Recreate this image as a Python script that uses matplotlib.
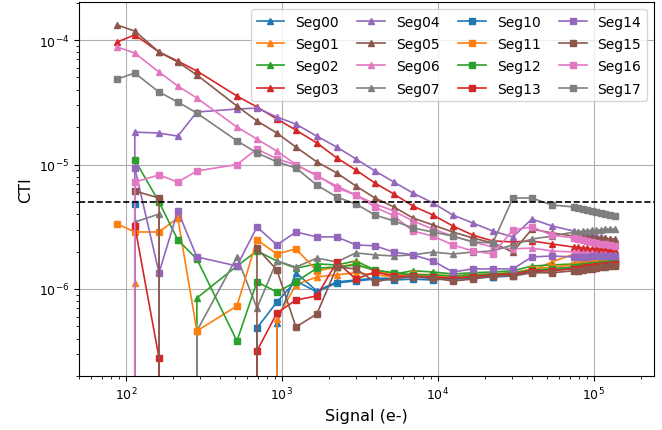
import numpy as np
import matplotlib
matplotlib.use('Agg')
import matplotlib.pyplot as plt

nan = np.nan
NEG = -1e-6  # non-positive CTI (falls off the log axis)

signal = [88, 114, 163, 215, 285, 515, 692, 929, 1230, 1675, 2250, 2980, 3950,
          5225, 6920, 9290, 12470, 16750, 22500, 30260, 40080, 53800,
          74500, 79500, 85000, 90800, 97000, 103500, 110500, 118000, 126000, 136000]

seg00 = [nan, nan, nan, nan, nan, nan, NEG, 5.33e-7, 1.35e-6, 9.64e-7, 1.14e-6, 1.18e-6, 1.22e-6, 1.22e-6, 1.25e-6, 1.22e-6, 1.20e-6, 1.22e-6, 1.25e-6, 1.30e-6, 1.40e-6, 1.45e-6, 1.50e-6, 1.53e-6, 1.56e-6, 1.56e-6, 1.59e-6, 1.62e-6, 1.62e-6, 1.65e-6, 1.65e-6, 1.68e-6]
seg01 = [nan, 1.12e-6, NEG, NEG, NEG, NEG, NEG, 5.74e-7, 1.08e-6, 1.25e-6, 1.30e-6, 1.35e-6, 1.30e-6, 1.25e-6, 1.27e-6, 1.25e-6, 1.25e-6, 1.27e-6, 1.30e-6, 1.32e-6, 1.40e-6, 1.65e-6, 1.91e-6, 1.95e-6, 1.95e-6, 1.98e-6, 1.98e-6, 1.98e-6, 2.02e-6, 2.02e-6, 2.02e-6, 2.02e-6]
seg02 = [nan, nan, nan, NEG, 8.47e-7, 1.53e-6, 2.02e-6, 1.68e-6, 1.47e-6, 1.59e-6, 1.56e-6, 1.68e-6, 1.42e-6, 1.32e-6, 1.40e-6, 1.37e-6, 1.32e-6, 1.35e-6, 1.37e-6, 1.40e-6, 1.53e-6, 1.56e-6, 1.59e-6, 1.59e-6, 1.62e-6, 1.62e-6, 1.62e-6, 1.65e-6, 1.65e-6, 1.65e-6, 1.68e-6, 1.68e-6]
seg03 = [9.64e-5, 1.10e-4, 8.01e-5, 6.78e-5, 5.64e-5, 3.55e-5, 2.90e-5, 2.32e-5, 1.89e-5, 1.49e-5, 1.13e-5, 9.03e-6, 7.10e-6, 5.79e-6, 4.64e-6, 3.93e-6, 3.21e-6, 2.71e-6, 2.43e-6, 2.39e-6, 2.43e-6, 2.30e-6, 2.17e-6, 2.17e-6, 2.13e-6, 2.13e-6, 2.10e-6, 2.10e-6, 2.10e-6, 2.06e-6, 2.06e-6, 2.06e-6]
seg04 = [NEG, 1.82e-5, 1.79e-5, 1.69e-5, 2.64e-5, 2.79e-5, 2.84e-5, 2.41e-5, 2.11e-5, 1.69e-5, 1.38e-5, 1.11e-5, 8.87e-6, 7.23e-6, 5.90e-6, 4.91e-6, 3.93e-6, 3.39e-6, 2.92e-6, 2.62e-6, 3.65e-6, 3.21e-6, 2.92e-6, 2.87e-6, 2.82e-6, 2.77e-6, 2.71e-6, 2.66e-6, 2.62e-6, 2.57e-6, 2.52e-6, 2.48e-6]
seg05 = [1.32e-4, 1.18e-4, 8.01e-5, 6.66e-5, 5.24e-5, 2.95e-5, 2.24e-5, 1.79e-5, 1.38e-5, 1.05e-5, 8.55e-6, 6.72e-6, 5.38e-6, 4.56e-6, 3.72e-6, 3.27e-6, 2.87e-6, 2.57e-6, 2.34e-6, 1.98e-6, 3.03e-6, 2.82e-6, 2.66e-6, 2.66e-6, 2.62e-6, 2.62e-6, 2.62e-6, 2.57e-6, 2.57e-6, 2.57e-6, 2.52e-6, 2.52e-6]
seg06 = [8.79e-5, 7.86e-5, 5.53e-5, 4.27e-5, 3.42e-5, 2.00e-5, 1.60e-5, 1.28e-5, 1.00e-5, 8.09e-6, 6.72e-6, 5.69e-6, 4.82e-6, 4.23e-6, 3.52e-6, 3.03e-6, 2.66e-6, 2.39e-6, 2.17e-6, 2.10e-6, 2.13e-6, 2.02e-6, 1.98e-6, 1.98e-6, 1.95e-6, 1.95e-6, 1.95e-6, 1.91e-6, 1.91e-6, 1.91e-6, 1.88e-6, 1.88e-6]
seg07 = [nan, 3.45e-6, 4.00e-6, NEG, 4.60e-7, 1.81e-6, 7.03e-7, 1.68e-6, 1.50e-6, 1.77e-6, 1.65e-6, 1.95e-6, 1.88e-6, 1.84e-6, 1.88e-6, 1.98e-6, 1.91e-6, 1.98e-6, 2.02e-6, 2.26e-6, 2.52e-6, 2.66e-6, 2.87e-6, 2.87e-6, 2.92e-6, 2.92e-6, 2.98e-6, 2.98e-6, 2.98e-6, 3.03e-6, 3.03e-6, 3.03e-6]

seg10 = [nan, 4.82e-6, NEG, NEG, NEG, NEG, 4.86e-7, 7.86e-7, 1.16e-6, 9.46e-7, 1.12e-6, 1.16e-6, 1.20e-6, 1.18e-6, 1.20e-6, 1.18e-6, 1.22e-6, 1.25e-6, 1.25e-6, 1.27e-6, 1.37e-6, 1.42e-6, 1.47e-6, 1.47e-6, 1.50e-6, 1.53e-6, 1.53e-6, 1.56e-6, 1.59e-6, 1.59e-6, 1.62e-6, 1.65e-6]
seg11 = [3.33e-6, 2.87e-6, 2.87e-6, 3.72e-6, 4.60e-7, 7.30e-7, 2.48e-6, 1.91e-6, 2.10e-6, 1.40e-6, 1.50e-6, 1.59e-6, 1.40e-6, 1.30e-6, 1.32e-6, 1.30e-6, 1.27e-6, 1.30e-6, 1.32e-6, 1.35e-6, 1.45e-6, 1.50e-6, 1.56e-6, 1.56e-6, 1.59e-6, 1.59e-6, 1.62e-6, 1.62e-6, 1.65e-6, 1.65e-6, 1.68e-6, 1.71e-6]
seg12 = [nan, 1.09e-5, 5.00e-6, 2.48e-6, 1.74e-6, 3.82e-7, 1.14e-6, 9.46e-7, 1.14e-6, 1.47e-6, 1.50e-6, 1.56e-6, 1.42e-6, 1.35e-6, 1.30e-6, 1.30e-6, 1.27e-6, 1.30e-6, 1.32e-6, 1.35e-6, 1.42e-6, 1.45e-6, 1.50e-6, 1.50e-6, 1.53e-6, 1.53e-6, 1.56e-6, 1.56e-6, 1.59e-6, 1.59e-6, 1.62e-6, 1.62e-6]
seg13 = [nan, 3.21e-6, 2.79e-7, NEG, NEG, NEG, 3.18e-7, 6.41e-7, 8.16e-7, 8.79e-7, 1.65e-6, 1.20e-6, 1.37e-6, 1.27e-6, 1.27e-6, 1.25e-6, 1.22e-6, 1.25e-6, 1.30e-6, 1.32e-6, 1.40e-6, 1.40e-6, 1.45e-6, 1.45e-6, 1.47e-6, 1.50e-6, 1.50e-6, 1.53e-6, 1.53e-6, 1.56e-6, 1.56e-6, 1.59e-6]
seg14 = [nan, 9.38e-6, 1.35e-6, 4.23e-6, 1.81e-6, 1.53e-6, 3.15e-6, 2.26e-6, 2.87e-6, 2.62e-6, 2.62e-6, 2.26e-6, 2.22e-6, 1.98e-6, 1.88e-6, 1.68e-6, 1.37e-6, 1.45e-6, 1.45e-6, 1.45e-6, 1.81e-6, 1.84e-6, 1.81e-6, 1.81e-6, 1.81e-6, 1.81e-6, 1.84e-6, 1.84e-6, 1.84e-6, 1.84e-6, 1.84e-6, 1.84e-6]
seg15 = [nan, 6.13e-6, 5.38e-6, NEG, NEG, NEG, 2.13e-6, 1.42e-6, 4.95e-7, 6.30e-7, 1.50e-6, 1.45e-6, 1.14e-6, 1.22e-6, 1.25e-6, 1.22e-6, 1.16e-6, 1.20e-6, 1.27e-6, 1.27e-6, 1.35e-6, 1.35e-6, 1.40e-6, 1.40e-6, 1.42e-6, 1.45e-6, 1.45e-6, 1.47e-6, 1.50e-6, 1.50e-6, 1.53e-6, 1.53e-6]
seg16 = [NEG, 7.23e-6, 8.24e-6, 7.23e-6, 8.87e-6, 1.00e-5, 1.33e-5, 1.11e-5, 9.91e-6, 8.24e-6, 6.48e-6, 5.69e-6, 4.56e-6, 3.86e-6, 2.92e-6, 2.66e-6, 2.26e-6, 2.02e-6, 1.91e-6, 2.98e-6, 3.15e-6, 2.71e-6, 2.57e-6, 2.52e-6, 2.48e-6, 2.43e-6, 2.39e-6, 2.34e-6, 2.30e-6, 2.30e-6, 2.26e-6, 2.22e-6]
seg17 = [4.86e-5, 5.43e-5, 3.82e-5, 3.18e-5, 2.59e-5, 1.55e-5, 1.24e-5, 1.05e-5, 9.38e-6, 6.84e-6, 5.48e-6, 4.82e-6, 3.93e-6, 3.52e-6, 3.09e-6, 2.87e-6, 2.66e-6, 2.39e-6, 2.34e-6, 5.38e-6, 5.38e-6, 4.73e-6, 4.56e-6, 4.47e-6, 4.39e-6, 4.31e-6, 4.23e-6, 4.15e-6, 4.07e-6, 4.00e-6, 3.93e-6, 3.86e-6]

tri_names = ['Seg00', 'Seg01', 'Seg02', 'Seg03', 'Seg04', 'Seg05', 'Seg06', 'Seg07']
tri_data = [seg00, seg01, seg02, seg03, seg04, seg05, seg06, seg07]
sq_names = ['Seg10', 'Seg11', 'Seg12', 'Seg13', 'Seg14', 'Seg15', 'Seg16', 'Seg17']
sq_data = [seg10, seg11, seg12, seg13, seg14, seg15, seg16, seg17]
threshold = 5e-6

fig = plt.figure(figsize=(6.62, 4.31), dpi=100)
ax = fig.add_axes([0.1193, 0.1253, 0.8686, 0.8677])
ax.set_xscale('log')
ax.set_yscale('log', nonpositive='clip')

for i, (name, vals) in enumerate(zip(tri_names, tri_data)):
    ax.plot(signal, vals, marker='^', color=f'C{i}', label=name, ms=5, lw=1.2)
for i, (name, vals) in enumerate(zip(sq_names, sq_data)):
    ax.plot(signal, vals, marker='s', color=f'C{i}', label=name, ms=5, lw=1.2)

ax.axhline(threshold, color='k', ls='--', lw=1.2)
ax.set_xlim(50, 2.43e5)
ax.set_ylim(2e-7, 2.02e-4)
ax.grid(True, which='major', color='#b0b0b0', lw=0.8)
ax.set_xlabel('Signal (e-)', fontsize=11.5)
ax.set_ylabel('CTI', fontsize=11.5)
ax.tick_params(labelsize=9)
ax.legend(ncol=4, loc='upper right', fontsize=10, columnspacing=1.3,
          labelspacing=0.6)

fig.savefig('out.png', dpi=100)
